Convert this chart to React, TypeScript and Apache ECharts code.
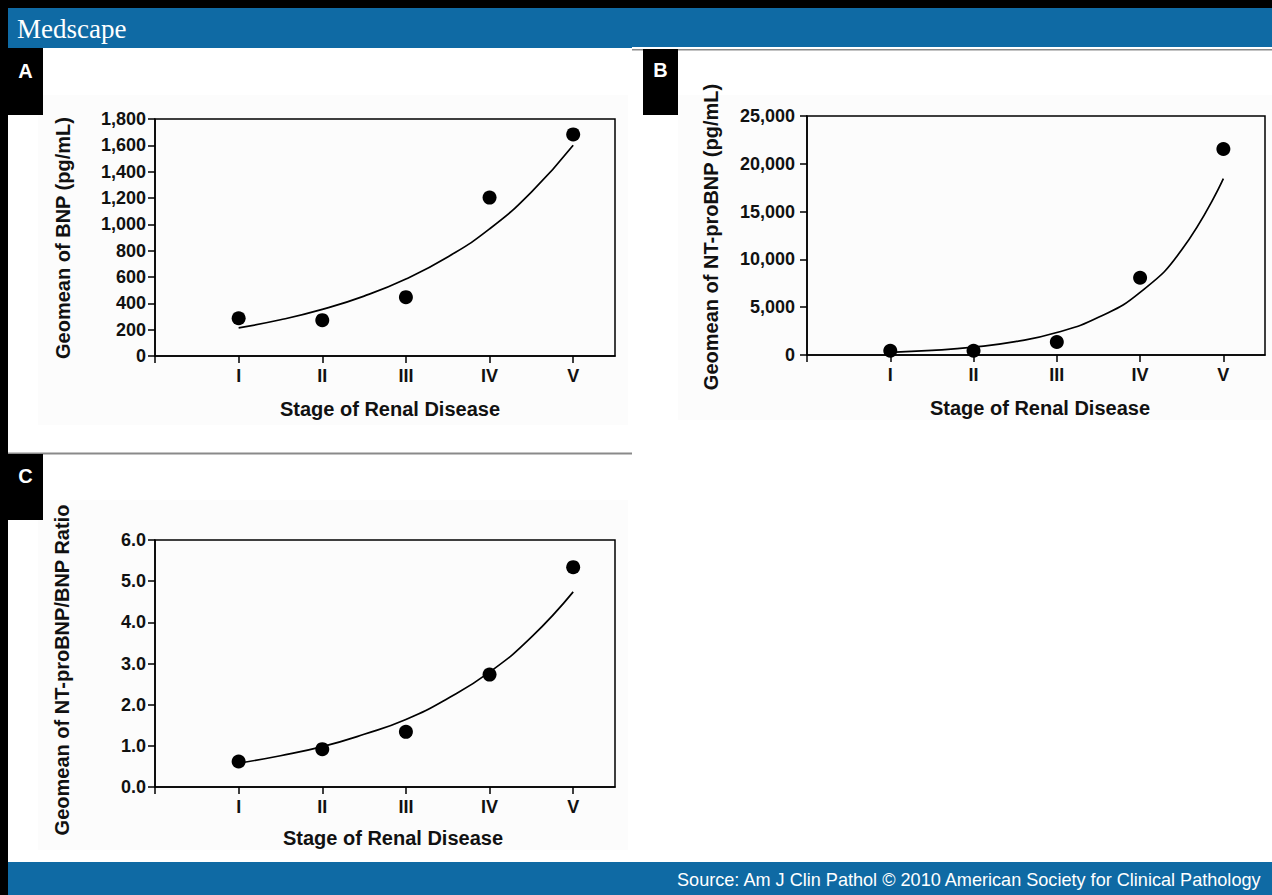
import React, { useEffect, useRef } from "react";
import * as echarts from "echarts";

// ---- Data ----
const stages = ["I", "II", "III", "IV", "V"];
const stageX = [1, 2, 3, 4, 5];

// Panel A: geomean BNP (pg/mL)
const bnpPoints = [287, 272, 447, 1203, 1683];
// Panel B: geomean NT-proBNP (pg/mL)
const ntPoints = [450, 450, 1360, 8080, 21550];
// Panel C: geomean NT-proBNP/BNP ratio
const ratioPoints = [0.62, 0.92, 1.34, 2.73, 5.34];

// Fitted curves at half-stage steps
const fitX = [1, 1.5, 2, 2.5, 3, 3.5, 4, 4.5, 5];
const bnpFit = [214, 275, 354, 455, 585, 752, 965, 1245, 1601];
const ntFit = [280, 480, 820, 1390, 2350, 3940, 6550, 11000, 18450];
const ratioFit = [0.58, 0.76, 0.98, 1.28, 1.64, 2.15, 2.79, 3.64, 4.74];

const FONT = "'Liberation Sans', Arial, Helvetica, sans-serif";
const BLUE = "#0f6aa4";

function pairs(xs: number[], ys: number[]) {
  return xs.map((x, i) => [x, ys[i]]);
}

function xAxisCfg(gridIndex: number) {
  return {
    gridIndex,
    type: "value",
    min: 0,
    max: 5.5,
    axisLine: { show: true, onZero: false, lineStyle: { color: "#000", width: 1.5 } },
    axisTick: {
      show: true,
      customValues: [0, 1, 2, 3, 4, 5],
      length: 7,
      lineStyle: { color: "#000", width: 1.5 },
    },
    axisLabel: {
      customValues: stageX,
      formatter: (v: number) => stages[Math.round(v) - 1] ?? "",
      fontFamily: FONT,
      fontWeight: "bold",
      fontSize: 18,
      color: "#111",
      margin: 11,
    },
    splitLine: { show: false },
  };
}

function yAxisCfg(
  gridIndex: number,
  max: number,
  interval: number,
  fmt: (v: number) => string,
  margin: number
) {
  return {
    gridIndex,
    type: "value",
    min: 0,
    max,
    interval,
    axisLine: { show: true, onZero: false, lineStyle: { color: "#000", width: 1.5 } },
    axisTick: { show: true, length: 7, lineStyle: { color: "#000", width: 1.5 } },
    axisLabel: {
      formatter: fmt,
      fontFamily: FONT,
      fontWeight: "bold",
      fontSize: 18,
      color: "#111",
      margin,
    },
    splitLine: { show: false },
  };
}

const comma = (v: number) => v.toLocaleString("en-US");
const oneDec = (v: number) => v.toFixed(1);

function scatter(idx: number, ys: number[]) {
  return {
    type: "scatter",
    xAxisIndex: idx,
    yAxisIndex: idx,
    data: pairs(stageX, ys),
    symbol: "circle",
    symbolSize: 14,
    itemStyle: { color: "#000", opacity: 1 },
    z: 3,
  };
}

function fit(idx: number, ys: number[]) {
  return {
    type: "line",
    xAxisIndex: idx,
    yAxisIndex: idx,
    data: pairs(fitX, ys),
    smooth: true,
    showSymbol: false,
    symbol: "none",
    lineStyle: { color: "#000", width: 1.7 },
    z: 2,
  };
}

function titleText(x: number, y: number, text: string, rotate = false) {
  return {
    type: "text",
    x,
    y,
    rotation: rotate ? Math.PI / 2 : 0,
    style: {
      text,
      fill: "#111",
      font: `bold 20px ${FONT}`,
      textAlign: "center",
      textVerticalAlign: "middle",
    },
  };
}

function panelLabel(x0: number, y0: number, w: number, h: number, letter: string, ty: number) {
  return [
    { type: "rect", shape: { x: x0, y: y0, width: w, height: h }, style: { fill: "#000" } },
    {
      type: "text",
      x: x0 + w / 2,
      y: ty,
      style: {
        text: letter,
        fill: "#fff",
        font: `bold 20px ${FONT}`,
        textAlign: "center",
        textVerticalAlign: "middle",
      },
    },
  ];
}

export default function App() {
  const ref = useRef<HTMLDivElement>(null);

  useEffect(() => {
    if (!ref.current) return;
    const chart = echarts.init(ref.current, undefined, { renderer: "svg" });

    const option = {
      animation: false,
      backgroundColor: "#fff",
      grid: [
        { left: 155, top: 119, width: 460, height: 237, show: true, borderColor: "#000", borderWidth: 1.5 },
        { left: 807, top: 116, width: 458, height: 239, show: true, borderColor: "#000", borderWidth: 1.5 },
        { left: 155, top: 540, width: 460, height: 247, show: true, borderColor: "#000", borderWidth: 1.5 },
      ],
      xAxis: [xAxisCfg(0), xAxisCfg(1), xAxisCfg(2)],
      yAxis: [
        yAxisCfg(0, 1800, 200, comma, 9),
        yAxisCfg(1, 25000, 5000, comma, 12),
        yAxisCfg(2, 6, 1, oneDec, 9),
      ],
      series: [
        fit(0, bnpFit),
        scatter(0, bnpPoints),
        fit(1, ntFit),
        scatter(1, ntPoints),
        fit(2, ratioFit),
        scatter(2, ratioPoints),
      ],
      graphic: [
        // soft plot backgrounds
        { type: "rect", z: -10, shape: { x: 38, y: 95, width: 590, height: 330 }, style: { fill: "#fcfcfc" } },
        { type: "rect", z: -10, shape: { x: 678, y: 95, width: 594, height: 325 }, style: { fill: "#fcfcfc" } },
        { type: "rect", z: -10, shape: { x: 38, y: 500, width: 590, height: 350 }, style: { fill: "#fcfcfc" } },
        // outer black frame
        { type: "rect", shape: { x: 0, y: 0, width: 1272, height: 8 }, style: { fill: "#000" } },
        { type: "rect", shape: { x: 0, y: 0, width: 8, height: 895 }, style: { fill: "#000" } },
        // header
        { type: "rect", shape: { x: 8, y: 8, width: 1264, height: 40 }, style: { fill: BLUE } },
        { type: "rect", shape: { x: 632, y: 47, width: 640, height: 2 }, style: { fill: "#fff" } },
        { type: "rect", shape: { x: 632, y: 49, width: 640, height: 1.5 }, style: { fill: "#8a8a8a" } },
        {
          type: "text",
          x: 17,
          y: 29,
          style: {
            text: "Medscape",
            fill: "#fff",
            font: "27px 'Liberation Serif', 'Times New Roman', serif",
            textAlign: "left",
            textVerticalAlign: "middle",
          },
        },
        // separator above panel C
        { type: "rect", shape: { x: 8, y: 452.5, width: 624, height: 2 }, style: { fill: "#8a8a8a" } },
        // footer
        { type: "rect", shape: { x: 8, y: 862, width: 1264, height: 33 }, style: { fill: BLUE } },
        {
          type: "text",
          x: 677,
          y: 880,
          style: {
            text: "Source: Am J Clin Pathol \u00a9 2010 American Society for Clinical Pathology",
            fill: "#fff",
            font: `18.1px ${FONT}`,
            textAlign: "left",
            textVerticalAlign: "middle",
          },
        },
        // panel letters
        ...panelLabel(8, 48, 35, 67, "A", 71),
        ...panelLabel(643, 49, 35, 66, "B", 70),
        ...panelLabel(8, 454, 35, 66, "C", 476),
        // axis titles
        titleText(63, 238, "Geomean of BNP (pg/mL)", true),
        titleText(390, 409, "Stage of Renal Disease"),
        titleText(711, 237, "Geomean of NT-proBNP (pg/mL)", true),
        titleText(1040, 408, "Stage of Renal Disease"),
        titleText(62, 670, "Geomean of NT-proBNP/BNP Ratio", true),
        titleText(393, 838, "Stage of Renal Disease"),
      ],
    };

    chart.setOption(option as any);
    return () => chart.dispose();
  }, []);

  return (
    <div
      ref={ref}
      style={{ position: "absolute", left: 0, top: 0, width: 1272, height: 895 }}
    />
  );
}
